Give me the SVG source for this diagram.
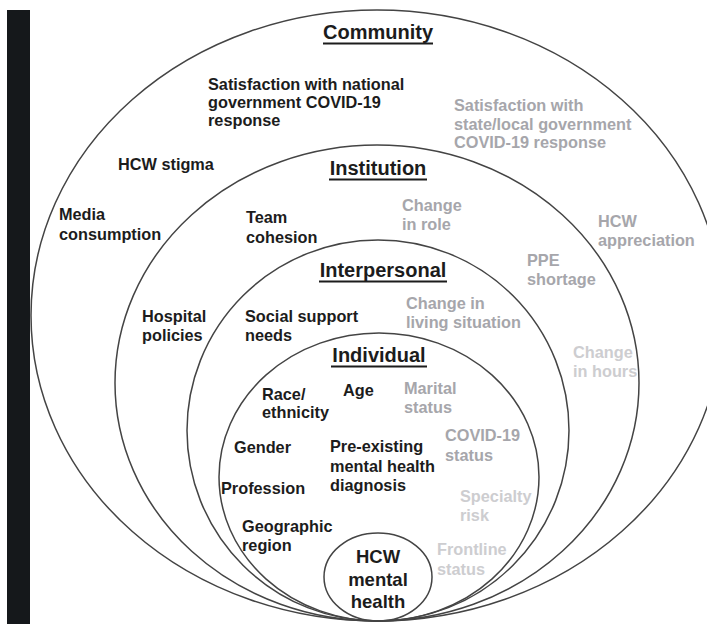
<svg xmlns="http://www.w3.org/2000/svg" width="707" height="624" viewBox="0 0 707 624">
<style>
.ring{fill:none;stroke:#444;stroke-width:1.5}
text{font-family:"Liberation Sans",Arial,Helvetica,sans-serif;font-weight:bold}
.h{font-size:20px;fill:#1c1c1c;text-anchor:middle}
.ul{stroke:#1c1c1c;stroke-width:2}
.b{font-size:16.3px;fill:#1c1c1c}
.g{font-size:16.3px;fill:#a6a6ab}
.l{font-size:16.3px;fill:#cdcdd0}
.c{font-size:18.5px;fill:#1c1c1c;text-anchor:middle}
</style>
<rect width="707" height="624" fill="#fff"/>
<rect x="7" y="10" width="23" height="614" fill="#15181b"/>

<g id="community">
<ellipse class="ring" cx="377" cy="315.5" rx="346" ry="305.5"/>
<text class="h" x="378" y="39">Community</text>
<line class="ul" x1="323" y1="43.5" x2="433" y2="43.5"/>
<text class="b" x="208"><tspan x="208" y="90">Satisfaction with national</tspan><tspan x="208" y="108">government COVID-19</tspan><tspan x="208" y="126">response</tspan></text>
<text class="b" x="118" y="170">HCW stigma</text>
<text class="b"><tspan x="59" y="220">Media</tspan><tspan x="59" y="240">consumption</tspan></text>
<text class="g"><tspan x="454" y="111">Satisfaction with</tspan><tspan x="454" y="129.5">state/local government</tspan><tspan x="454" y="148">COVID-19 response</tspan></text>
<text class="g"><tspan x="598" y="227">HCW</tspan><tspan x="598" y="246">appreciation</tspan></text>
</g>

<g id="institution">
<ellipse class="ring" cx="377" cy="383" rx="262" ry="238"/>
<text class="h" x="378" y="175">Institution</text>
<line class="ul" x1="329" y1="179.5" x2="427" y2="179.5"/>
<text class="b"><tspan x="246" y="223">Team</tspan><tspan x="246" y="243">cohesion</tspan></text>
<text class="b"><tspan x="142" y="322">Hospital</tspan><tspan x="142" y="341">policies</tspan></text>
<text class="g"><tspan x="402" y="211">Change</tspan><tspan x="402" y="230">in role</tspan></text>
<text class="g"><tspan x="527" y="266">PPE</tspan><tspan x="527" y="285">shortage</tspan></text>
<text class="l"><tspan x="573" y="358">Change</tspan><tspan x="573" y="377">in hours</tspan></text>
</g>

<g id="interpersonal">
<ellipse class="ring" cx="378" cy="430.5" rx="191" ry="190.5"/>
<text class="h" x="383" y="277">Interpersonal</text>
<line class="ul" x1="319" y1="281.5" x2="447" y2="281.5"/>
<text class="b"><tspan x="245" y="322">Social support</tspan><tspan x="245" y="341">needs</tspan></text>
<text class="g"><tspan x="406" y="309">Change in</tspan><tspan x="406" y="328">living situation</tspan></text>
</g>

<g id="individual">
<ellipse class="ring" cx="379" cy="477" rx="160" ry="144"/>
<text class="h" x="379" y="362">Individual</text>
<line class="ul" x1="331" y1="366.5" x2="427" y2="366.5"/>
<text class="b"><tspan x="262" y="400">Race/</tspan><tspan x="262" y="418">ethnicity</tspan></text>
<text class="b" x="343" y="396">Age</text>
<text class="b" x="234" y="453">Gender</text>
<text class="b"><tspan x="330" y="452">Pre-existing</tspan><tspan x="330" y="471.5">mental health</tspan><tspan x="330" y="491">diagnosis</tspan></text>
<text class="b" x="221" y="494">Profession</text>
<text class="b"><tspan x="242" y="532">Geographic</tspan><tspan x="242" y="551">region</tspan></text>
<text class="g"><tspan x="404" y="394">Marital</tspan><tspan x="404" y="413">status</tspan></text>
<text class="g"><tspan x="445" y="441">COVID-19</tspan><tspan x="445" y="461">status</tspan></text>
<text class="l"><tspan x="460" y="502">Specialty</tspan><tspan x="460" y="521">risk</tspan></text>
<text class="l"><tspan x="437" y="555">Frontline</tspan><tspan x="437" y="575">status</tspan></text>
</g>

<g id="hcw-mental-health">
<ellipse class="ring" cx="378" cy="577" rx="54" ry="44"/>
<text class="c"><tspan x="378" y="563">HCW</tspan><tspan x="378" y="586">mental</tspan><tspan x="378" y="608">health</tspan></text>
</g>

<g id="connectors"/>
</svg>
